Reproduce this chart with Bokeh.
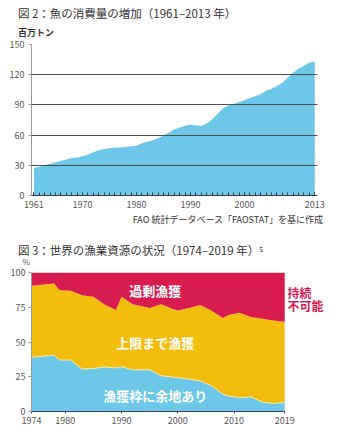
from bokeh.plotting import figure
from bokeh.layouts import column
from bokeh.models import Range1d, Label, FixedTicker, Title
from bokeh.embed import file_html
from bokeh.resources import INLINE

FONT = "Noto Sans CJK JP"

# ---- Chart 1: fish consumption (million tonnes) ----
cons_years = list(range(1961, 2014))
cons_values = [27.5, 28.5, 30.3, 31.5, 33.0, 34.2, 35.8, 37.2, 37.8, 39.0,
               40.6, 43.0, 45.0, 46.2, 47.0, 47.6, 47.8, 48.3, 48.9, 49.5,
               52.0, 53.5, 55.0, 56.8, 59.5, 62.5, 65.5, 67.6, 69.2, 70.4,
               69.8, 69.0, 71.4, 75.5, 81.0, 86.5, 89.5, 91.0, 92.8, 94.6,
               96.8, 98.6, 100.8, 104.0, 106.0, 108.7, 112.0, 117.0, 122.0, 125.8,
               129.0, 131.8, 133.0]
c1_xticks = [1961, 1970, 1980, 1990, 2000, 2013]
c1_yticks = [0, 30, 60, 90, 120, 150]
c1_grid = [30, 60, 90, 120, 150]

# ---- Chart 2: state of fish stocks (%) ----
stock_years = [1974, 1978, 1979, 1981, 1983, 1985, 1987, 1989, 1990, 1992, 1995, 1997,
               1999, 2000, 2002, 2004, 2006, 2008, 2009, 2011, 2013, 2015, 2017, 2019]
underfished = [39.0, 40.5, 37.0, 37.0, 30.5, 31.0, 32.0, 31.3, 32.2, 30.0, 30.0, 25.8,
               24.8, 24.3, 23.3, 22.0, 18.5, 12.5, 11.0, 10.0, 10.5, 6.8, 5.8, 6.5]
overfished = [9.6, 8.0, 12.7, 13.2, 16.3, 17.5, 23.0, 27.0, 17.5, 22.8, 25.5, 22.8,
              26.0, 27.3, 25.5, 23.3, 27.5, 32.8, 30.5, 29.0, 32.0, 33.3, 34.5, 35.4]
fully_fished = [round(100 - u - o, 1) for u, o in zip(underfished, overfished)]
c2_xticks = [1974, 1980, 1990, 2000, 2010, 2019]
c2_yticks = [0, 25, 50, 75, 100]

BLUE = "#6cc7e8"
YELLOW = "#f2bd0c"
RED = "#d81c50"

# layout (pixels / axis extents)
LEFT, RIGHT = 31, 5
X1_START, X1_END, X1_VIEW_END = 1960.56, 2013.5, 2018.7
X2_START, X2_END, X2_VIEW_END = 1974, 2019, 2029.8
TITLE_OFFSET = -13.6


def title(text, size="11.5px", style="normal", color="#333333", align="left", offset=0, standoff=0):
    return Title(text=text, align=align, offset=offset, standoff=standoff,
                 text_font=FONT, text_font_size=size, text_font_style=style,
                 text_color=color)


# ---------- figure 1 ----------
p1 = figure(width=350, height=226, output_backend="svg", toolbar_location=None,
            x_range=Range1d(X1_START, X1_VIEW_END), y_range=Range1d(0, 150),
            min_border_left=LEFT, min_border_right=RIGHT, min_border_top=44, min_border_bottom=31)
p1.outline_line_color = None
p1.varea(x=cons_years, y1=0, y2=cons_values, fill_color=BLUE)

p1.xgrid.visible = False
p1.ygrid.ticker = FixedTicker(ticks=c1_grid)
p1.ygrid.cross_bounds = (X1_START, X1_END)
p1.ygrid.grid_line_color = "#4d4d4d"
p1.ygrid.grid_line_width = 1
p1.ygrid.level = "overlay"

p1.yaxis.ticker = FixedTicker(ticks=c1_yticks)
p1.yaxis.axis_line_color = "#999999"
p1.yaxis.major_tick_in = 0
p1.yaxis.major_tick_out = 3
p1.yaxis.major_tick_line_color = "#999999"
p1.yaxis.minor_tick_line_color = None
p1.yaxis.major_label_standoff = 4
p1.yaxis.major_label_text_font = FONT
p1.yaxis.major_label_text_font_size = "9px"
p1.yaxis.major_label_text_color = "#555555"

p1.xaxis.ticker = FixedTicker(ticks=c1_xticks, minor_ticks=cons_years)
p1.xaxis.bounds = (X1_START, X1_END)
p1.xaxis.axis_line_color = "#333a4a"
p1.xaxis.major_tick_in = 3
p1.xaxis.major_tick_out = 0
p1.xaxis.minor_tick_in = 3
p1.xaxis.minor_tick_out = 0
p1.xaxis.major_tick_line_color = "#333a4a"
p1.xaxis.minor_tick_line_color = "#333a4a"
p1.xaxis.major_label_standoff = 5
p1.xaxis.major_label_text_font = FONT
p1.xaxis.major_label_text_font_size = "9px"
p1.xaxis.major_label_text_color = "#555555"

p1.add_layout(title("百万トン", size="9px", style="bold", offset=TITLE_OFFSET, standoff=12), "above")
p1.add_layout(title("図 2：魚の消費量の増加（1961–2013 年）", offset=TITLE_OFFSET, standoff=-7), "above")
p1.add_layout(title("FAO 統計データベース「FAOSTAT」を基に作成", size="9px",
                    align="right", offset=22), "below")

# ---------- figure 2 ----------
p2 = figure(width=350, height=212, output_backend="svg", toolbar_location=None,
            x_range=Range1d(X2_START, X2_VIEW_END), y_range=Range1d(0, 100),
            min_border_left=LEFT, min_border_right=RIGHT, min_border_top=46, min_border_bottom=27)
p2.outline_line_color = None
p2.grid.visible = False

under_top = underfished
fully_top = [u + f for u, f in zip(underfished, fully_fished)]
p2.varea(x=stock_years, y1=0, y2=under_top, fill_color=BLUE)
p2.varea(x=stock_years, y1=under_top, y2=fully_top, fill_color=YELLOW)
p2.varea(x=stock_years, y1=fully_top, y2=100, fill_color=RED)
p2.line(x=stock_years, y=under_top, line_color="#f6e7a8", line_width=1)

p2.yaxis.ticker = FixedTicker(ticks=c2_yticks)
p2.yaxis.axis_line_color = "#999999"
p2.yaxis.major_tick_in = 0
p2.yaxis.major_tick_out = 3
p2.yaxis.major_tick_line_color = "#999999"
p2.yaxis.minor_tick_line_color = None
p2.yaxis.major_label_standoff = 3
p2.yaxis.major_label_text_font = FONT
p2.yaxis.major_label_text_font_size = "9px"
p2.yaxis.major_label_text_color = "#555555"

p2.xaxis.ticker = FixedTicker(ticks=c2_xticks)
p2.xaxis.bounds = (X2_START, X2_END)
p2.xaxis.axis_line_color = "#3a4a66"
p2.xaxis.major_tick_in = 0
p2.xaxis.major_tick_out = 2
p2.xaxis.major_tick_line_color = "#3a4a66"
p2.xaxis.minor_tick_line_color = None
p2.xaxis.major_label_standoff = 3
p2.xaxis.major_label_text_font = FONT
p2.xaxis.major_label_text_font_size = "9px"
p2.xaxis.major_label_text_color = "#555555"

p2.add_layout(title("%", size="8px", color="#555555", offset=-9, standoff=12), "above")
p2.add_layout(title("図 3：世界の漁業資源の状況（1974–2019 年）⁵", offset=TITLE_OFFSET, standoff=-21), "above")

for txt, yy in [("過剰漁獲", 87.3), ("上限まで漁獲", 49.6), ("漁獲枠に余地あり", 11.3)]:
    p2.add_layout(Label(x=1996, y=yy, text=txt, text_font=FONT, text_font_style="bold",
                        text_font_size="13px", text_color="white",
                        text_baseline="middle", text_align="center"))
for txt, yy in [("持続", 85.6), ("不可能", 76.0)]:
    p2.add_layout(Label(x=2019.5, y=yy, text=txt,
                        text_font=FONT, text_font_style="bold", text_font_size="12px",
                        text_color=RED, text_baseline="middle"))

layout = column(p1, p2, spacing=0)
open("out.html", "w").write(file_html(layout, INLINE))
